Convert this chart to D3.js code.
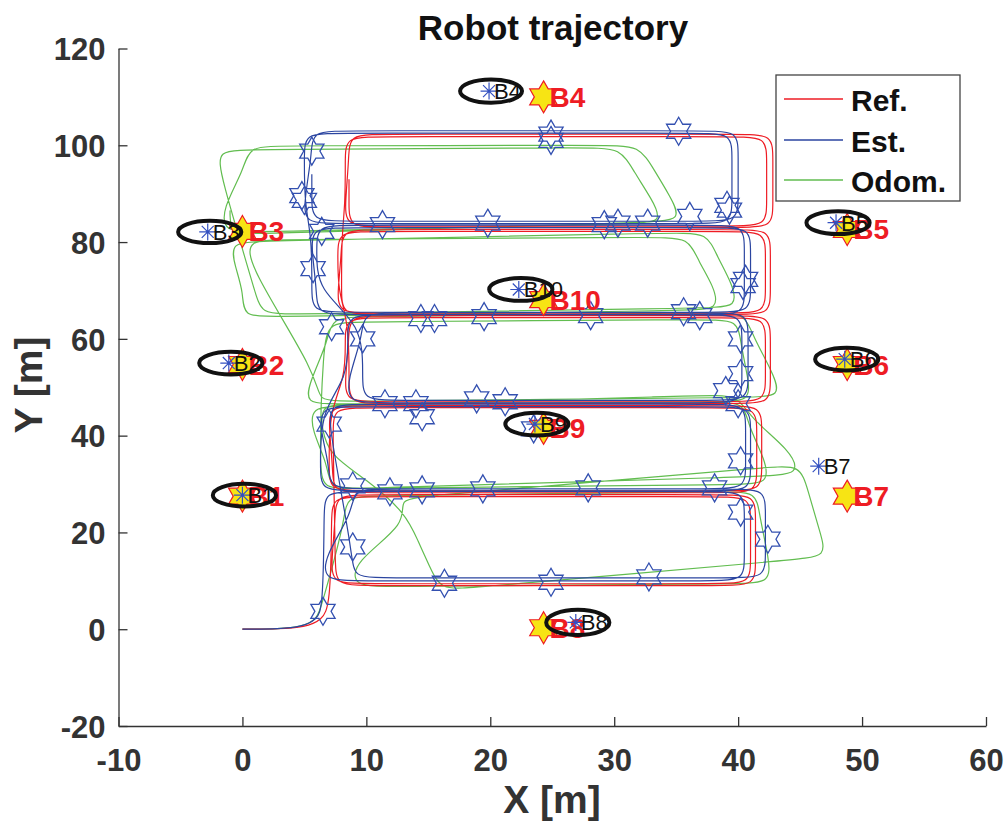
<!DOCTYPE html>
<html><head><meta charset="utf-8">
<script src="https://cdn.jsdelivr.net/npm/d3@7"></script>
<style>body{margin:0;background:#fff} text{font-family:"Liberation Sans",Arial,Helvetica,sans-serif}</style>
</head><body><svg id="c" width="1004" height="823"></svg>
<script>
const xTicks=[-10,0,10,20,30,40,50,60];
const yTicks=[-20,0,20,40,60,80,100,120];
const seriesNames=["Ref.","Est.","Odom."];

const refPath=[[0,0],[3,0.05],[5,0.4],[6.4,1.8],[7.1,5],
[7.2,22.4],[7.2,27.4],[9.7,27.4],[38.5,27.4],[41.0,27.4],[41.0,22.4],[41.0,14.4],[41.0,9.4],[38.5,9.4],[9.7,9.4],[7.2,9.4],[7.2,14.4],
[7.5,22.8],[7.5,27.8],[10.0,27.8],[38.9,27.8],[41.4,27.8],[41.4,22.8],[41.4,14.0],[41.4,9.0],[38.9,9.0],[10.0,9.0],[7.5,9.0],[7.5,14.0],
[7.3,40.8],[7.3,45.8],[9.8,45.8],[39.0,45.8],[41.5,45.8],[41.5,40.8],[41.5,33.2],[41.5,28.2],[39.0,28.2],[9.8,28.2],[7.3,28.2],[7.3,33.2],
[7.0,41.2],[7.0,46.2],[9.5,46.2],[39.4,46.2],[41.9,46.2],[41.9,41.2],[41.9,33.6],[41.9,28.6],[39.4,28.6],[9.5,28.6],[7.0,28.6],[7.0,33.6],
[7.0,45],[8.3,52],
[8.3,59.4],[8.3,64.4],[10.8,64.4],[39.7,64.4],[42.2,64.4],[42.2,59.4],[42.2,52.0],[42.2,47.0],[39.7,47.0],[10.8,47.0],[8.3,47.0],[8.3,52.0],
[8.6,59.8],[8.6,64.8],[11.1,64.8],[40.1,64.8],[42.6,64.8],[42.6,59.8],[42.6,51.6],[42.6,46.6],[40.1,46.6],[11.1,46.6],[8.6,46.6],[8.6,51.6],
[8.6,63],[7.7,70],
[7.7,77.2],[7.7,82.2],[10.2,82.2],[39.7,82.2],[42.2,82.2],[42.2,77.2],[42.2,70.3],[42.2,65.3],[39.7,65.3],[10.2,65.3],[7.7,65.3],[7.7,70.3],
[8.0,77.6],[8.0,82.6],[10.5,82.6],[40.1,82.6],[42.6,82.6],[42.6,77.6],[42.6,70.0],[42.6,65.0],[40.1,65.0],[10.5,65.0],[8.0,65.0],[8.0,70.0],
[8.0,81],[8.3,88],
[8.3,96.8],[8.3,101.8],[10.8,101.8],[39.8,101.8],[42.3,101.8],[42.3,96.8],[42.3,88.3],[42.3,83.3],[39.8,83.3],[10.8,83.3],[8.3,83.3],[8.3,88.3],
[8.6,97.3],[8.6,102.3],[11.1,102.3],[40.3,102.3],[42.8,102.3],[42.8,97.3],[42.8,88.0],[42.8,83.0],[40.3,83.0],[11.1,83.0],[8.6,83.0],[8.6,88.0],[8.6,93]];

const estPath=[[0,0],[3,0.05],[4.8,0.5],[6.0,2],[6.5,4.5],
[6.6,23.5],[6.6,28.5],[9.1,28.5],[38.0,28.5],[40.5,28.5],[40.5,23.5],[40.5,15.0],[40.5,10.0],[38.0,10.0],[9.1,10.0],[6.6,10.0],[6.6,15.0],
[8.9,24.0],[8.9,29.0],[11.4,29.0],[39.7,29.0],[42.2,29.0],[42.2,24.0],[42.2,15.6],[42.2,10.6],[39.7,10.6],[11.4,10.6],[8.9,10.6],[8.9,15.6],
[7.0,41.5],[7.0,46.5],[9.5,46.5],[38.1,46.5],[40.6,46.5],[40.6,41.5],[40.6,34.0],[40.6,29.0],[38.1,29.0],[9.5,29.0],[7.0,29.0],[7.0,34.0],
[6.3,41.0],[6.3,46.0],[8.8,46.0],[38.5,46.0],[41.0,46.0],[41.0,41.0],[41.0,33.6],[41.0,28.6],[38.5,28.6],[8.8,28.6],[6.3,28.6],[6.3,33.6],
[6.3,45],[8.5,52],
[8.5,60.0],[8.5,65.0],[11.0,65.0],[37.8,65.0],[40.3,65.0],[40.3,60.0],[40.3,51.8],[40.3,46.8],[37.8,46.8],[11.0,46.8],[8.5,46.8],[8.5,51.8],
[9.7,60.4],[9.7,65.4],[12.2,65.4],[38.3,65.4],[40.8,65.4],[40.8,60.4],[40.8,52.3],[40.8,47.3],[38.3,47.3],[12.2,47.3],[9.7,47.3],[9.7,52.3],
[9.7,63],[6.0,70],
[6.0,78.5],[6.0,83.5],[8.5,83.5],[38.0,83.5],[40.5,83.5],[40.5,78.5],[40.5,70.0],[40.5,65.0],[38.0,65.0],[8.5,65.0],[6.0,65.0],[6.0,70.0],
[5.6,78.0],[5.6,83.0],[8.1,83.0],[38.5,83.0],[41.0,83.0],[41.0,78.0],[41.0,70.5],[41.0,65.5],[38.5,65.5],[8.1,65.5],[5.6,65.5],[5.6,70.5],
[5.6,81],[5.0,88],
[5.0,97.5],[5.0,102.5],[7.5,102.5],[37.0,102.5],[39.5,102.5],[39.5,97.5],[39.5,88.8],[39.5,83.8],[37.0,83.8],[7.5,83.8],[5.0,83.8],[5.0,88.8],
[5.6,98.0],[5.6,103.0],[8.1,103.0],[37.5,103.0],[40.0,103.0],[40.0,98.0],[40.0,89.3],[40.0,84.3],[37.5,84.3],[8.1,84.3],[5.6,84.3],[5.6,89.3],[5.6,94]];

const odomPath=[[0,0],[3,0.05],[4.8,0.5],[6.0,2],[6.4,5],
[8.3,22.5],[8.3,27.5],[10.8,27.6],[39.0,28.4],[41.5,28.5],[41.7,23.5],[42.5,14.5],[42.6,9.5],[40.1,9.4],[11.5,8.8],[9.0,8.8],[8.9,13.8],
[13.4,22],[12.5,27],[15,27.5],[42.5,33.5],[45,34],[45.6,29],[46.6,20],[47.2,15],[44.7,14.4],[18.5,8.6],[16,8],[15.1,13],
[14.2,18],[13.2,24],[10,31],[7,36],
[6.4,41.5],[6.3,46.5],[8.8,46.5],[38,47],[40.5,47],[40.8,42],[42.2,35],[42.5,30],[40,29.9],[9.5,29.1],[7,29],[6.9,34],
[5.6,41],[5.5,46],[8,46.2],[37.5,48.3],[40,48.5],[41,43.5],[44.2,37],[45,32],[42.5,31.6],[9,29.1],[6.5,28.8],[6.2,33.8],
[6.5,58.5],[7,63.5],[9.5,63.5],[37.5,64],[40,64],[40.2,59],[40.8,52],[41,47],[38.5,47],[7.5,46.5],[5,46.5],[5.5,51.5],
[6.9,59.5],[7.2,64.5],[9.7,64.6],[38,65.4],[40.5,65.5],[41.2,60.5],[42.8,53],[43.5,48],[41,47.9],[8.5,47.1],[6,47],[6.2,52],
[0.4,75.5],[0.5,80.5],[3,80.5],[33.5,81],[36,81],[36.8,76],[38,71],[38.5,66],[36,65.9],[2.5,64.6],[0,64.5],[0.1,69.5],
[-0.6,75],[-1,80],[1.5,80.2],[35,81.9],[37.5,82],[38.3,77],[39.5,71.5],[40,66.5],[37.5,66.4],[4,65.1],[1.5,65],[1,70],
[-1.8,94],[-2,99],[0.5,99.1],[28,99.5],[30.5,99.5],[31.6,94.5],[33,89],[34,84],[31.5,83.8],[1,82.1],[-1.5,82],[-1.6,87],
[0.1,94.8],[0.5,99.8],[3,99.9],[29.5,100],[32,100],[33.2,95],[34.5,89.5],[35.5,84.5],[33,84],[1.5,81.8],[-1,81.5],[-1,86.5]];

const obsX=[6.5,5.6,4.8,5.0,24.9,24.9,35.2,39.1,39.3,36.1,32.7,30.3,29.2,19.8,11.3,6.4,5.7,40.6,40.4,7.2,9.7,14.4,15.5,19.5,28.1,35.6,36.9,40.2,40.2,39.0,40.0,11.5,14.0,14.5,18.9,21.2,23.5,7.0,8.9,11.9,14.5,19.4,27.9,38.1,40.2,42.4,40.2,8.9,16.3,24.9,32.8];
const obsY=[3.7,98.8,89.6,88.6,102.3,101.0,102.9,87.6,86.6,85.3,83.9,83.9,83.6,83.9,83.6,82.2,74.5,72.3,71.0,62.5,60.0,64.2,64.2,64.6,64.8,65.6,64.8,60.0,52.8,49.3,46.6,46.6,46.6,43.9,47.6,47.0,41.4,42.4,29.6,28.4,28.8,29.0,29.2,29.2,24.2,18.6,34.8,17.0,9.5,9.7,10.8];

const lmNames=["B1","B2","B3","B4","B5","B6","B7","B8","B9","B10"];
const lmTrueX=[0,0,0,24.3,48.8,48.8,48.8,24.3,24.3,24.3];
const lmTrueY=[27.5,54.7,82.2,110,82.6,54.7,27.5,0.3,41.5,68.1];
const lmEstX=[0,-1.1,-2.8,19.9,47.9,48.6,46.5,26.9,23.6,22.3];
const lmEstY=[27.7,55,82.1,111.2,84,55.8,33.7,1.4,42.4,70.2];
const ellRx=[2.55,2.55,2.55,2.5,2.55,2.55,0,2.55,2.55,2.55];
const ellRy=[2.35,2.35,2.3,2.4,2.35,2.35,0,2.6,2.35,2.35];

const colors={ref:"#ee1c24",est:"#2b45a0",odom:"#62bd50"};

const svg=d3.select("#c");
const x=d3.scaleLinear().domain([-10,60]).range([118.5,986]);
const y=d3.scaleLinear().domain([-20,120]).range([726,48.5]);

svg.append("defs").append("clipPath").attr("id","clip").append("rect")
  .attr("x",118.5).attr("y",48.5).attr("width",986-118.5).attr("height",726-48.5);

const plot=svg.append("g").attr("clip-path","url(#clip)");
const line=d3.line().x(d=>x(d[0])).y(d=>y(d[1])).curve(d3.curveBasis);

plot.append("path").datum(odomPath).attr("d",line).attr("fill","none").attr("stroke",colors.odom).attr("stroke-width",1.2);
plot.append("path").datum(refPath).attr("d",line).attr("fill","none").attr("stroke",colors.ref).attr("stroke-width",1.2);
plot.append("path").datum(estPath).attr("d",line).attr("fill","none").attr("stroke",colors.est).attr("stroke-width",1.2);

const hexagram={draw(ctx,size){
  const R=Math.sqrt(size)/2, r=R/Math.sqrt(3);
  for(let i=0;i<12;i++){
    const a=-Math.PI/2+i*Math.PI/6, rr=(i%2===0)?R:r;
    const px=rr*Math.cos(a), py=rr*Math.sin(a);
    if(i===0)ctx.moveTo(px,py);else ctx.lineTo(px,py);
  }
  ctx.closePath();
}};
const asterisk={draw(ctx,size){
  const R=Math.sqrt(size)/2;
  for(let i=0;i<4;i++){
    const a=i*Math.PI/4;
    ctx.moveTo(-R*Math.cos(a),-R*Math.sin(a));
    ctx.lineTo(R*Math.cos(a),R*Math.sin(a));
  }
}};

plot.selectAll("path.obs").data(obsX.map((v,i)=>[v,obsY[i]])).enter().append("path")
  .attr("class","obs")
  .attr("transform",d=>`translate(${x(d[0])},${y(d[1])})`)
  .attr("d",d3.symbol().type(hexagram).size(28*28))
  .attr("fill","none").attr("stroke","#3350b0").attr("stroke-width",1.3);

const lms=lmNames.map((n,i)=>({n,tx:lmTrueX[i],ty:lmTrueY[i],ex:lmEstX[i],ey:lmEstY[i],rx:ellRx[i],ry:ellRy[i]}));

plot.selectAll("path.true").data(lms).enter().append("path")
  .attr("transform",d=>`translate(${x(d.tx)},${y(d.ty)})`)
  .attr("d",d3.symbol().type(hexagram).size(32*32))
  .attr("fill","#f7e414").attr("stroke","#ee1c24").attr("stroke-width",1.2);
plot.selectAll("text.tl").data(lms).enter().append("text")
  .attr("x",d=>x(d.tx)+6).attr("y",d=>y(d.ty)+10)
  .attr("font-size",28).attr("font-weight","bold").attr("fill","#ee1c24").text(d=>d.n);

plot.selectAll("path.est").data(lms).enter().append("path")
  .attr("transform",d=>`translate(${x(d.ex)},${y(d.ey)})`)
  .attr("d",d3.symbol().type(asterisk).size(17*17))
  .attr("fill","none").attr("stroke","#3350c0").attr("stroke-width",1.2);
plot.selectAll("text.el").data(lms).enter().append("text")
  .attr("x",d=>x(d.ex)+5).attr("y",d=>y(d.ey)+8)
  .attr("font-size",22).attr("fill","#111").text(d=>d.n);
plot.selectAll("ellipse").data(lms.filter(d=>d.rx>0)).enter().append("ellipse")
  .attr("cx",d=>x(d.ex)+2).attr("cy",d=>y(d.ey))
  .attr("rx",d=>x(d.ex+d.rx)-x(d.ex)).attr("ry",d=>y(d.ey)-y(d.ey+d.ry))
  .attr("fill","none").attr("stroke","#111").attr("stroke-width",4);

const axCol="#333";
const gx=svg.append("g").attr("transform","translate(0,726)")
  .call(d3.axisBottom(x).tickValues(xTicks).tickFormat(d=>String(d)).tickSizeInner(-9).tickSizeOuter(0));
const gy=svg.append("g").attr("transform","translate(118.5,0)")
  .call(d3.axisLeft(y).tickValues(yTicks).tickFormat(d=>String(d)).tickSizeInner(-9).tickSizeOuter(0));
[gx,gy].forEach(g=>{
  g.select(".domain").attr("stroke",axCol).attr("stroke-width",1.3);
  g.selectAll(".tick line").attr("stroke",axCol).attr("stroke-width",1.3);
  g.selectAll(".tick text").attr("fill",axCol).attr("font-size",31).attr("font-weight","bold")
   .attr("font-family","'Liberation Sans',Arial,sans-serif");
});
gx.selectAll(".tick text").attr("dy","0").attr("y",45);
gy.selectAll(".tick text").attr("dy","0.36em").attr("x",-13);

svg.append("text").attr("x",553).attr("y",40).attr("text-anchor","middle")
  .attr("font-size",35).attr("font-weight","bold").attr("fill","#111").text("Robot trajectory");
svg.append("text").attr("x",552).attr("y",813).attr("text-anchor","middle")
  .attr("font-size",39).attr("font-weight","bold").attr("fill",axCol).text("X [m]");
svg.append("text").attr("transform","translate(42,385) rotate(-90)").attr("text-anchor","middle")
  .attr("font-size",39).attr("font-weight","bold").attr("fill",axCol).text("Y [m]");

const lg=svg.append("g");
lg.append("rect").attr("x",776).attr("y",75).attr("width",184).attr("height",126)
  .attr("fill","#fff").attr("stroke","#444").attr("stroke-width",1.3);
const lcols=[colors.ref,colors.est,colors.odom];
const lys=[99,140,180];
seriesNames.forEach((n,i)=>{
  lg.append("line").attr("x1",784).attr("x2",843).attr("y1",lys[i]).attr("y2",lys[i])
    .attr("stroke",lcols[i]).attr("stroke-width",1.3);
  lg.append("text").attr("x",851).attr("y",lys[i]+12).attr("font-size",30).attr("font-weight","bold")
    .attr("fill","#111").text(n);
});
</script></body></html>
